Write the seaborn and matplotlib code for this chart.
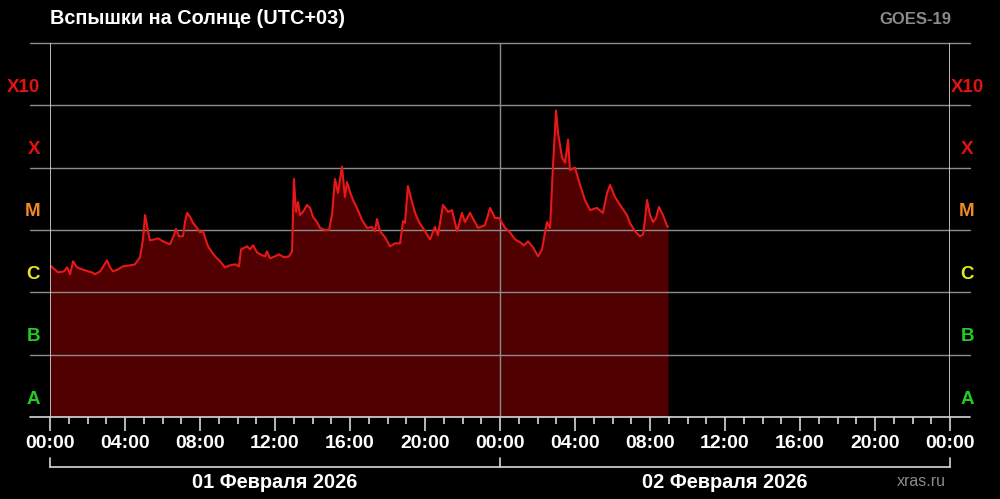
import numpy as np
import pandas as pd
import matplotlib
matplotlib.use("Agg")
import matplotlib.pyplot as plt
import seaborn as sns

# time in hours from 01.02.2026 00:00 (UTC+03), X-ray flux in W/m^2 (GOES-19)
hours = [
    0.00, 0.43, 0.75, 0.91, 1.07, 1.23, 1.44, 1.71, 2.03, 2.24,
    2.40, 2.67, 2.88, 3.04, 3.20, 3.36, 3.63, 3.89, 4.27, 4.53,
    4.80, 4.96, 5.07, 5.23, 5.33, 5.60, 5.76, 6.03, 6.40, 6.61,
    6.72, 6.88, 7.09, 7.20, 7.31, 7.47, 7.63, 7.84, 8.00, 8.16,
    8.27, 8.43, 8.64, 8.85, 9.07, 9.33, 9.60, 9.87, 10.08, 10.19,
    10.51, 10.67, 10.83, 11.04, 11.31, 11.47, 11.57, 11.73, 12.00, 12.21,
    12.48, 12.75, 12.91, 13.01, 13.12, 13.23, 13.33, 13.49, 13.71, 13.87,
    14.03, 14.24, 14.40, 14.67, 14.88, 15.04, 15.20, 15.36, 15.57, 15.73,
    15.84, 16.00, 16.16, 16.37, 16.64, 16.91, 17.17, 17.33, 17.44, 17.60,
    17.87, 18.13, 18.40, 18.67, 18.83, 18.93, 19.09, 19.25, 19.47, 19.68,
    19.89, 20.27, 20.53, 20.69, 20.96, 21.23, 21.44, 21.71, 21.97, 22.13,
    22.40, 22.83, 23.20, 23.47, 23.73, 23.95, 24.27, 24.53, 24.80, 25.07,
    25.28, 25.49, 25.76, 26.03, 26.24, 26.40, 26.51, 26.67, 26.83, 26.99,
    27.09, 27.31, 27.47, 27.63, 27.73, 28.00, 28.27, 28.53, 28.80, 29.17,
    29.49, 29.71, 29.87, 30.13, 30.51, 30.77, 30.93, 31.20, 31.47, 31.63,
    31.73, 31.84, 32.00, 32.16, 32.32, 32.48, 32.69, 32.91, 32.96,
]
flux = [
    2.71e-6, 2.09e-6, 2.17e-6, 2.52e-6, 1.95e-6, 3.15e-6, 2.52e-6, 2.34e-6, 2.17e-6, 2.09e-6,
    1.95e-6, 2.17e-6, 2.71e-6, 3.26e-6, 2.52e-6, 2.17e-6, 2.34e-6, 2.61e-6, 2.71e-6, 2.81e-6,
    3.65e-6, 7.09e-6, 1.74e-5, 9.53e-6, 6.83e-6, 7.09e-6, 7.36e-6, 6.58e-6, 5.89e-6, 8.22e-6,
    1.04e-5, 7.92e-6, 7.92e-6, 1.34e-5, 1.88e-5, 1.62e-5, 1.30e-5, 1.08e-5, 9.18e-6, 9.53e-6,
    7.63e-6, 5.47e-6, 4.38e-6, 3.65e-6, 3.15e-6, 2.52e-6, 2.71e-6, 2.81e-6, 2.61e-6, 4.90e-6,
    5.47e-6, 4.90e-6, 5.68e-6, 4.38e-6, 3.93e-6, 3.78e-6, 4.55e-6, 3.51e-6, 3.78e-6, 4.07e-6,
    3.65e-6, 3.78e-6, 4.55e-6, 6.58e-5, 1.95e-5, 2.81e-5, 1.74e-5, 1.95e-5, 2.52e-5, 2.26e-5,
    1.62e-5, 1.34e-5, 1.08e-5, 1.00e-5, 1.00e-5, 1.74e-5, 6.58e-5, 3.93e-5, 1.04e-4, 3.39e-5,
    5.89e-5, 4.07e-5, 3.03e-5, 2.26e-5, 1.45e-5, 1.08e-5, 1.12e-5, 9.53e-6, 1.50e-5, 9.53e-6,
    7.63e-6, 5.47e-6, 6.12e-6, 6.12e-6, 1.39e-5, 1.30e-5, 5.08e-5, 3.26e-5, 1.88e-5, 1.34e-5,
    1.08e-5, 7.09e-6, 1.12e-5, 8.22e-6, 2.52e-5, 1.95e-5, 2.09e-5, 9.53e-6, 1.88e-5, 1.34e-5,
    1.88e-5, 1.08e-5, 1.20e-5, 2.26e-5, 1.56e-5, 1.56e-5, 1.08e-5, 9.18e-6, 7.09e-6, 6.35e-6,
    5.68e-6, 6.58e-6, 5.28e-6, 3.78e-6, 4.90e-6, 9.18e-6, 1.34e-5, 1.08e-5, 1.12e-4, 8.22e-4,
    3.65e-4, 1.45e-4, 1.20e-4, 2.81e-4, 9.18e-5, 1.00e-4, 5.28e-5, 3.03e-5, 2.09e-5, 2.26e-5,
    1.88e-5, 3.93e-5, 5.28e-5, 3.39e-5, 2.26e-5, 1.74e-5, 1.30e-5, 9.53e-6, 7.92e-6, 8.51e-6,
    1.45e-5, 3.03e-5, 1.74e-5, 1.34e-5, 1.56e-5, 2.34e-5, 1.74e-5, 1.16e-5, 1.12e-5,
]

class_labels = ["A", "B", "C", "M", "X", "X10"]
class_levels = [1e-8, 1e-7, 1e-6, 1e-5, 1e-4, 1e-3]
class_colors = ["#22cc22", "#22cc22", "#e6e61e", "#f08a24", "#e31212", "#e31212"]

tick_hours = [0, 4, 8, 12, 16, 20, 24, 28, 32, 36, 40, 44, 48]
tick_labels = ["00:00", "04:00", "08:00", "12:00", "16:00", "20:00", "00:00",
               "04:00", "08:00", "12:00", "16:00", "20:00", "00:00"]
day_labels = ["01 Февраля 2026", "02 Февраля 2026"]

df = pd.DataFrame({"hours": hours, "flux": flux})

sns.set_style("dark")
plt.rcParams["font.family"] = ["Liberation Sans", "DejaVu Sans"]

fig = plt.figure(figsize=(10, 4.99), dpi=100, facecolor="black")
ax = fig.add_axes([0.05, 1 - 417 / 499, 0.90, (417 - 43) / 499])
ax.set_facecolor("black")
ax.set_yscale("log")
ax.set_xlim(0, 48)
ax.set_ylim(1e-8, 1e-2)

ax.fill_between(df["hours"], df["flux"], 1e-8, color="#500000", lw=0, zorder=1)
sns.lineplot(data=df, x="hours", y="flux", ax=ax, color="#e81818", lw=1.5, zorder=3)

grid_col = "#8c8c8c"
yt = ax.get_yaxis_transform()
for lev in class_levels[1:] + [1e-2]:
    ax.plot([-0.022, 1.022], [lev, lev], color=grid_col, lw=1, transform=yt,
            clip_on=False, zorder=2)
ax.plot([-0.022, 1.022], [1e-8, 1e-8], color="#d8d8d8", lw=1.2, transform=yt,
        clip_on=False, zorder=4)
ax.axvline(24, color=grid_col, lw=1, zorder=2)
ax.axvline(0, color="#d8d8d8", lw=1.2, zorder=4)
ax.axvline(48, color="#d8d8d8", lw=1.2, zorder=4)

for s in ax.spines.values():
    s.set_visible(False)
ax.grid(False)

ax.set_yticks([])
ax.minorticks_off()
# class letters: left ones right-aligned near the axis, right ones centred
for lab, lev, col in zip(class_labels, class_levels, class_colors):
    ax.annotate(lab, (-10 / 900, lev), xycoords=yt, xytext=(0, 18),
                textcoords="offset pixels", ha="right", va="center",
                color=col, fontsize=13.5, fontweight="bold", annotation_clip=False)
    ax.annotate(lab, (1 + 17 / 900, lev), xycoords=yt, xytext=(0, 18),
                textcoords="offset pixels", ha="center", va="center",
                color=col, fontsize=13.5, fontweight="bold", annotation_clip=False)

ax.set_xticks(tick_hours)
ax.set_xticklabels(tick_labels)
ax.set_xticks(range(49), minor=True)
ax.tick_params(axis="x", which="major", length=10, width=1.2, color="#d8d8d8",
               labelcolor="white", labelsize=14, pad=3, bottom=True)
ax.tick_params(axis="x", which="minor", length=5, width=1.2, color="#d8d8d8", bottom=True)
for t in ax.get_xticklabels():
    t.set_fontweight("bold")
ax.set_xlabel("")
ax.set_ylabel("")

# date brackets under the time axis
xt = ax.get_xaxis_transform()
yb = -(467 - 417) / 374
yb2 = -(458 - 417) / 374
ax.plot([0, 48], [yb, yb], color="#d8d8d8", lw=1.2, transform=xt, clip_on=False)
for xv in (0, 24, 48):
    ax.plot([xv, xv], [yb, yb2], color="#d8d8d8", lw=1.2, transform=xt, clip_on=False)
for i, lab in enumerate(day_labels):
    ax.text(12 + 24 * i, -(482 - 417) / 374, lab, transform=xt, ha="center", va="center",
            color="white", fontsize=14.3, fontweight="bold")

fig.text(0.05, 1 - 19 / 499, "Вспышки на Солнце (UTC+03)", ha="left", va="center",
         color="white", fontsize=14.3, fontweight="bold")
fig.text(0.951, 1 - 20 / 499, "GOES-19", ha="right", va="center",
         color="#8a8a8a", fontsize=12, fontweight="bold")
fig.text(0.946, 1 - 482 / 499, "xras.ru", ha="right", va="center",
         color="#8a8a8a", fontsize=11.5)

fig.savefig("out.png", dpi=100, facecolor="black")
